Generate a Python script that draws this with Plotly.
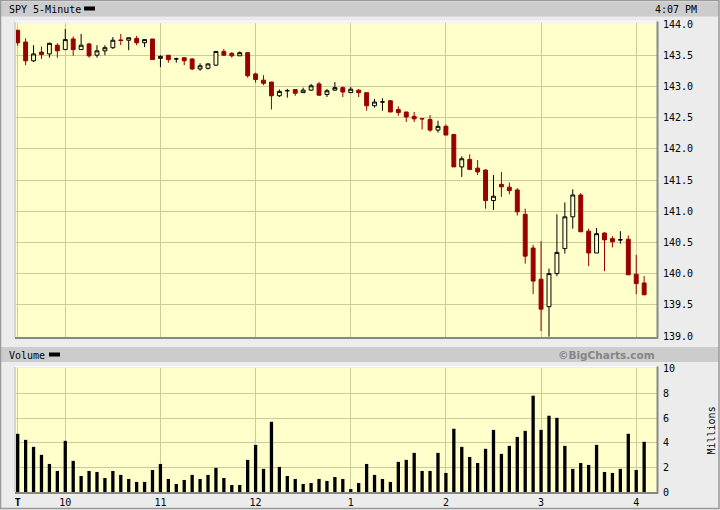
import pandas as pd
import plotly.graph_objects as go

# ---------------- data ----------------
times = pd.date_range("2008-01-02 09:30", periods=80, freq="5min")

open_ = [143.90, 143.71, 143.41, 143.55, 143.52, 143.66, 143.59, 143.76, 143.59, 143.68,
         143.50, 143.57, 143.62, 143.745, 143.74, 143.77, 143.70, 143.76, 143.45, 143.50,
         143.44, 143.46, 143.44, 143.28, 143.29, 143.34, 143.56, 143.53, 143.49, 143.54,
         143.20, 143.10, 143.07, 142.85, 142.93, 142.95, 142.90, 142.94, 143.04, 142.87,
         142.94, 142.98, 142.90, 142.94, 142.90, 142.69, 142.75, 142.77, 142.63, 142.59,
         142.52, 142.485, 142.47, 142.30, 142.36, 142.23, 141.71, 141.83, 141.69, 141.66,
         141.17, 141.43, 141.385, 141.34, 140.95, 140.41, 139.91, 139.47, 140.00, 140.40,
         140.91, 141.26, 140.68, 140.33, 140.65, 140.56, 140.54, 140.55, 139.99, 139.85]
high = [143.90, 143.77, 143.66, 143.64, 143.70, 143.69, 143.92, 143.80, 143.84, 143.70,
        143.66, 143.66, 143.79, 143.84, 143.78, 143.81, 143.75, 143.76, 143.50, 143.50,
        143.46, 143.46, 143.45, 143.37, 143.37, 143.56, 143.60, 143.55, 143.56, 143.55,
        143.22, 143.18, 143.07, 142.95, 142.96, 142.95, 142.98, 143.04, 143.07, 142.96,
        143.07, 143.00, 142.99, 142.955, 142.90, 142.80, 142.81, 142.78, 142.68, 142.59,
        142.59, 142.485, 142.54, 142.45, 142.39, 142.23, 141.88, 141.91, 141.82, 141.67,
        141.58, 141.63, 141.46, 141.37, 141.04, 140.46, 140.52, 140.08, 140.95, 141.14,
        141.35, 141.29, 140.72, 140.73, 140.66, 140.60, 140.68, 140.61, 140.30, 139.96]
low = [143.65, 143.34, 143.39, 143.44, 143.46, 143.46, 143.59, 143.49, 143.59, 143.46,
       143.46, 143.50, 143.60, 143.66, 143.58, 143.66, 143.63, 143.43, 143.31, 143.38,
       143.38, 143.34, 143.26, 143.25, 143.27, 143.33, 143.49, 143.46, 143.49, 143.14,
       143.06, 143.02, 142.63, 142.83, 142.82, 142.85, 142.90, 142.93, 142.85, 142.83,
       142.93, 142.83, 142.90, 142.83, 142.61, 142.66, 142.61, 142.59, 142.53, 142.43,
       142.43, 142.31, 142.27, 142.26, 142.22, 141.71, 141.55, 141.66, 141.58, 141.04,
       141.02, 141.23, 141.27, 140.93, 140.16, 139.67, 139.08, 138.99, 139.96, 140.32,
       140.72, 140.67, 140.12, 140.33, 140.04, 140.42, 140.48, 139.98, 139.67, 139.66]
close = [143.70, 143.41, 143.52, 143.51, 143.69, 143.57, 143.75, 143.59, 143.66, 143.49,
         143.57, 143.62, 143.74, 143.735, 143.78, 143.70, 143.75, 143.43, 143.48, 143.43,
         143.442, 143.41, 143.28, 143.33, 143.36, 143.56, 143.50, 143.49, 143.54, 143.17,
         143.11, 143.05, 142.85, 142.92, 142.932, 142.89, 142.94, 143.01, 142.86, 142.93,
         142.98, 142.91, 142.955, 142.90, 142.69, 142.75, 142.752, 142.59, 142.58, 142.51,
         142.48, 142.48, 142.30, 142.36, 142.22, 141.71, 141.84, 141.67, 141.63, 141.17,
         141.24, 141.39, 141.33, 140.99, 140.28, 139.88, 139.43, 140.00, 140.34, 140.91,
         141.26, 140.67, 140.33, 140.64, 140.54, 140.51, 140.542, 139.98, 139.84, 139.66]
volume = [4.73, 4.24, 3.67, 3.02, 2.28, 1.71, 4.16, 2.53, 1.30, 1.71,
          1.63, 1.14, 1.71, 1.39, 1.06, 0.82, 0.82, 1.79, 2.28, 1.06,
          0.65, 0.98, 1.39, 1.06, 1.39, 1.96, 1.14, 0.57, 0.57, 2.61,
          3.83, 1.88, 5.71, 2.04, 1.30, 1.06, 0.65, 0.73, 1.06, 0.90,
          1.22, 1.06, 0.24, 0.73, 2.28, 1.39, 1.06, 0.82, 2.45, 2.61,
          3.18, 1.71, 1.71, 3.18, 1.55, 5.14, 3.67, 2.85, 2.36, 3.51,
          5.05, 3.10, 3.75, 4.48, 4.97, 7.83, 5.05, 6.20, 6.03, 3.75,
          1.88, 2.36, 2.20, 3.83, 1.63, 1.55, 1.88, 4.73, 1.79, 4.08]

tick_times = ["2008-01-02 09:30", "2008-01-02 10:00", "2008-01-02 11:00", "2008-01-02 12:00",
              "2008-01-02 13:00", "2008-01-02 14:00", "2008-01-02 15:00", "2008-01-02 16:00"]
tick_text = ["<b>T</b>", "10", "11", "12", "1", "2", "3", "4"]
price_ticks = [139.0, 139.5, 140.0, 140.5, 141.0, 141.5, 142.0, 142.5, 143.0, 143.5, 144.0]
vol_ticks = [0, 2, 4, 6, 8, 10]

# ---------------- styling ----------------
W, H = 720, 510
def X(px):
    return px / W
def Y(py):
    return 1 - py / H

BG = "#ececec"
BAND = "#cccccc"
PLOTBG = "#ffffcc"
GRID = "#cccc99"
RED = "#990000"
FONT = "DejaVu Sans Mono"
FS = 10

x_range = ["2008-01-02 09:28:56", "2008-01-02 16:13:06"]

fig = go.Figure()
fig.add_trace(go.Candlestick(
    x=times, open=open_, high=high, low=low, close=close,
    increasing=dict(line=dict(color="black", width=1), fillcolor=PLOTBG),
    decreasing=dict(line=dict(color=RED, width=1), fillcolor=RED),
    whiskerwidth=0, xaxis="x", yaxis="y", hoverinfo="skip", showlegend=False))
fig.add_trace(go.Bar(
    x=times, y=volume, width=125000, marker=dict(color="black", line=dict(width=0)),
    xaxis="x2", yaxis="y2", hoverinfo="skip", showlegend=False))

shapes = []
# header bands
shapes.append(dict(type="rect", xref="paper", yref="paper", x0=X(1), x1=X(719), y0=Y(16.5), y1=Y(2),
                   fillcolor=BAND, line=dict(width=0), layer="below"))
shapes.append(dict(type="rect", xref="paper", yref="paper", x0=X(1), x1=X(719), y0=Y(362), y1=Y(347),
                   fillcolor=BAND, line=dict(width=0), layer="below"))
# legend swatches
shapes.append(dict(type="rect", xref="paper", yref="paper", x0=X(84), x1=X(95), y0=Y(10.5), y1=Y(6.5),
                   fillcolor="black", line=dict(width=0)))
shapes.append(dict(type="rect", xref="paper", yref="paper", x0=X(49), x1=X(60), y0=Y(356.5), y1=Y(352.5),
                   fillcolor="black", line=dict(width=0)))
# plot frames (inset look)
for top, bot in [(22.5, 337.5), (367.5, 492.5)]:
    shapes.append(dict(type="line", xref="paper", yref="paper", x0=X(15), x1=X(15), y0=Y(bot), y1=Y(top - 1),
                       line=dict(color="#bbbbbb", width=1)))
    shapes.append(dict(type="line", xref="paper", yref="paper", x0=X(15), x1=X(657), y0=Y(top - 1), y1=Y(top - 1),
                       line=dict(color="#ffffff", width=1)))
    shapes.append(dict(type="line", xref="paper", yref="paper", x0=X(657.5), x1=X(657.5), y0=Y(bot + 1), y1=Y(top - 1),
                       line=dict(color="#888888", width=2)))
    shapes.append(dict(type="line", xref="paper", yref="paper", x0=X(15), x1=X(658), y0=Y(bot + 0.5), y1=Y(bot + 0.5),
                       line=dict(color="#888888", width=2)))
# outer frame
shapes.append(dict(type="rect", xref="paper", yref="paper", x0=X(0.5), x1=X(719), y0=Y(508.5), y1=Y(0.5),
                   fillcolor="rgba(0,0,0,0)", line=dict(color="#999999", width=1.5)))

annotations = [
    dict(text="SPY 5-Minute", x=X(7), y=Y(9.5), xref="paper", yref="paper", xanchor="left", yanchor="middle",
         showarrow=False, font=dict(family=FONT, size=FS, color="black")),
    dict(text="4:07 PM", x=X(699), y=Y(9.5), xref="paper", yref="paper", xanchor="right", yanchor="middle",
         showarrow=False, font=dict(family=FONT, size=FS, color="black")),
    dict(text="Volume", x=X(7), y=Y(355), xref="paper", yref="paper", xanchor="left", yanchor="middle",
         showarrow=False, font=dict(family=FONT, size=FS, color="black")),
    dict(text="<b>©BigCharts.com</b>", x=X(657), y=Y(354.5), xref="paper", yref="paper", xanchor="right",
         yanchor="middle", showarrow=False, font=dict(family="DejaVu Sans", size=10.5, color="#858585")),
    dict(text="Millions", x=X(710.5), y=Y(431), xref="paper", yref="paper", xanchor="center", yanchor="middle",
         textangle=-90, showarrow=False, font=dict(family=FONT, size=FS, color="black")),
]

common_x = dict(type="date", range=x_range, domain=[X(16), X(657)], tickvals=tick_times,
                showgrid=True, gridcolor=GRID, gridwidth=1, zeroline=False, showline=False,
                fixedrange=True, automargin=False)

fig.update_layout(
    width=W, height=H, margin=dict(l=0, r=0, t=0, b=0),
    paper_bgcolor=BG, plot_bgcolor=PLOTBG,
    font=dict(family=FONT, size=FS, color="black"),
    showlegend=False, hovermode=False, boxgap=0.3,
    xaxis=dict(**common_x, anchor="y", showticklabels=False, rangeslider=dict(visible=False)),
    xaxis2=dict(**common_x, anchor="y2", ticktext=tick_text, ticks="outside", ticklen=1,
                tickcolor="rgba(0,0,0,0)", tickfont=dict(family=FONT, size=FS)),
    yaxis=dict(domain=[Y(337), Y(23)], range=[138.984, 144.016], side="right", anchor="x",
               tickvals=price_ticks, tickformat=".1f", showgrid=True, gridcolor=GRID, gridwidth=1,
               zeroline=False, showline=False, ticks="outside", ticklen=3, tickcolor="rgba(0,0,0,0)",
               fixedrange=True, automargin=False, tickfont=dict(family=FONT, size=FS)),
    yaxis2=dict(domain=[Y(492), Y(368)], range=[0, 10.08], side="right", anchor="x2",
                tickvals=vol_ticks, showgrid=True, gridcolor=GRID, gridwidth=1,
                zeroline=False, showline=False, ticks="outside", ticklen=3, tickcolor="rgba(0,0,0,0)",
                fixedrange=True, automargin=False, tickfont=dict(family=FONT, size=FS)),
    shapes=shapes, annotations=annotations,
)

fig.write_html("out.html", config={"displayModeBar": False},
               post_script="document.body.style.margin='0';document.body.style.overflow='hidden';")
